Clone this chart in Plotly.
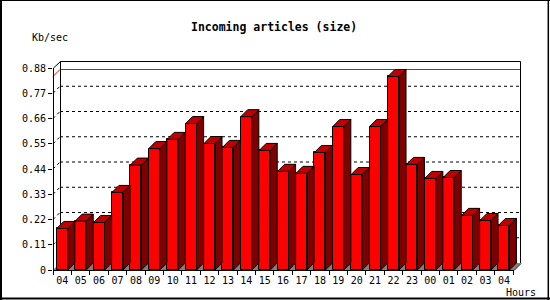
import plotly.graph_objects as go

# ---- data ----
hours = ["04", "05", "06", "07", "08", "09", "10", "11", "12", "13", "14", "15",
         "16", "17", "18", "19", "20", "21", "22", "23", "00", "01", "02", "03", "04"]
kb_per_sec = [0.181, 0.213, 0.207, 0.338, 0.457, 0.529, 0.569, 0.638, 0.551, 0.534,
              0.668, 0.521, 0.430, 0.421, 0.512, 0.625, 0.416, 0.625, 0.843, 0.460,
              0.399, 0.403, 0.238, 0.216, 0.194]
y_ticks = [0, 0.11, 0.22, 0.33, 0.44, 0.55, 0.66, 0.77, 0.88]
y_tick_text = ["0", "0.11", "0.22", "0.33", "0.44", "0.55", "0.66", "0.77", "0.88"]
title_text = "Incoming articles (size)"
y_unit = "Kb/sec"
x_unit_label = "Hours"

# ---- geometry (pixels) ----
W, H = 550, 300
L, R, T, B = 53, 521, 61, 270
DEPTH = 7
PITCH = 18.4
C0 = 62.3                      # pixel centre of first category
x0 = (L - C0) / PITCH
x1 = (R - C0) / PITCH
ys = y_ticks[-1] / (B - T - DEPTH)
y1 = (B - T) * ys
dx = DEPTH / PITCH
dy = DEPTH * ys
bw = 0.6

FONT = "DejaVu Sans Mono"
FRONT, TOP, SIDE = "#ff0000", "#c00000", "#800000"


def px(x):
    return (x - L) / (R - L)


def py(y):
    return (B - y) / (B - T)


xs = list(range(len(hours)))

fig = go.Figure()

# front faces
fig.add_trace(go.Bar(x=xs, y=kb_per_sec, width=bw,
                     marker=dict(color=FRONT, line=dict(color="black", width=1)),
                     hoverinfo="skip", showlegend=False))

# side and top faces
sx, sy, tx, tyy = [], [], [], []
for i, v in zip(xs, kb_per_sec):
    a, b = i - bw / 2, i + bw / 2
    sx += [b, b + dx, b + dx, b, b, None]
    sy += [0, dy, v + dy, v, 0, None]
    tx += [a, b, b + dx, a + dx, a, None]
    tyy += [v, v, v + dy, v + dy, v, None]
fig.add_trace(go.Scatter(x=sx, y=sy, mode="lines", fill="toself", fillcolor=SIDE,
                         line=dict(color="black", width=1), hoverinfo="skip",
                         showlegend=False))
fig.add_trace(go.Scatter(x=tx, y=tyy, mode="lines", fill="toself", fillcolor=TOP,
                         line=dict(color="black", width=1), hoverinfo="skip",
                         showlegend=False))

shapes = []
# floor
shapes.append(dict(type="path", xref="paper", yref="paper", layer="below",
                   path=f"M{px(L)},{py(B)} L{px(R-DEPTH)},{py(B)} L{px(R)},{py(B-DEPTH)} L{px(L+DEPTH)},{py(B-DEPTH)} Z",
                   fillcolor="#808080", line=dict(width=0)))
# dotted gridlines on back wall + wall diagonals
for v in y_ticks[1:-1]:
    yb = (v + dy) / y1
    shapes.append(dict(type="line", xref="paper", yref="paper", layer="below",
                       x0=px(L + DEPTH), x1=px(R), y0=yb, y1=yb,
                       line=dict(color="black", width=1, dash="dot")))
    shapes.append(dict(type="line", xref="paper", yref="paper", layer="below",
                       x0=px(L), x1=px(L + DEPTH), y0=v / y1, y1=yb,
                       line=dict(color="black", width=1, dash="dot")))
# max line (red)
vmax = max(kb_per_sec)
shapes.append(dict(type="path", xref="paper", yref="paper", layer="below",
                   path=f"M{px(L)},{vmax / y1} L{px(L + DEPTH)},{(vmax + dy) / y1} L{px(R)},{(vmax + dy) / y1}",
                   line=dict(color="#ff0000", width=1)))
# back wall frame
shapes.append(dict(type="path", xref="paper", yref="paper", layer="below",
                   path=f"M{px(L + DEPTH + 0.5)},{py(B - DEPTH)} L{px(L + DEPTH + 0.5)},{py(T + 0.5)} L{px(R - 0.5)},{py(T + 0.5)} L{px(R - 0.5)},{py(B - DEPTH)}",
                   line=dict(color="black", width=1)))
# front left axis
shapes.append(dict(type="path", xref="paper", yref="paper", layer="above",
                   path=f"M{px(L + 0.5)},{py(B)} L{px(L + 0.5)},{py(B - (B - T - DEPTH))} L{px(L + DEPTH + 0.5)},{py(T + 0.5)}",
                   line=dict(color="black", width=1)))
# front floor edge
shapes.append(dict(type="path", xref="paper", yref="paper", layer="above",
                   path=f"M{px(L)},{py(B + 0.5)} L{px(R - DEPTH)},{py(B + 0.5)} L{px(R)},{py(B - DEPTH + 0.5)}",
                   line=dict(color="black", width=1)))
# outer border
shapes += [
    dict(type="line", xref="paper", yref="paper", x0=px(1), x1=px(1), y0=py(0), y1=py(H),
         line=dict(color="black", width=2)),
    dict(type="line", xref="paper", yref="paper", x0=px(0), x1=px(W), y0=py(0.5), y1=py(0.5),
         line=dict(color="black", width=1)),
    dict(type="line", xref="paper", yref="paper", x0=px(548.3), x1=px(548.3), y0=py(0), y1=py(H),
         line=dict(color="black", width=1.5)),
    dict(type="line", xref="paper", yref="paper", x0=px(0), x1=px(W), y0=py(298.5), y1=py(298.5),
         line=dict(color="black", width=2)),
]

annotations = [
    dict(text=f"<b>{title_text}</b>", xref="paper", yref="paper", x=px(273.5), y=py(27),
         xanchor="center", yanchor="middle", showarrow=False,
         font=dict(family=FONT, size=11.5, color="black")),
    dict(text=y_unit, xref="paper", yref="paper", x=px(30), y=py(37),
         xanchor="left", yanchor="middle", showarrow=False,
         font=dict(family=FONT, size=10, color="black")),
    dict(text=x_unit_label, xref="paper", yref="paper", x=px(504), y=py(292),
         xanchor="left", yanchor="middle", showarrow=False,
         font=dict(family=FONT, size=10, color="black")),
]

fig.update_layout(
    width=W, height=H, autosize=False,
    margin=dict(l=L, r=W - R, t=T, b=H - B, pad=0),
    paper_bgcolor="white", plot_bgcolor="rgba(0,0,0,0)",
    showlegend=False, bargap=0,
    shapes=shapes, annotations=annotations,
    xaxis=dict(range=[x0, x1], tickmode="array", tickvals=xs, ticktext=hours,
               ticks="", showgrid=False, zeroline=False, showline=False,
               ticklabelstandoff=3,
               tickfont=dict(family=FONT, size=10, color="black"),
               minor=dict(ticks="outside", ticklen=4, tickcolor="black", tickwidth=1,
                          tickmode="array", tickvals=[i - 0.5 for i in range(len(hours) + 1)],
                          showgrid=False),
               fixedrange=True),
    yaxis=dict(range=[0, y1], tickmode="array", tickvals=y_ticks, ticktext=y_tick_text,
               ticks="outside", ticklen=4, tickcolor="black", tickwidth=1,
               showgrid=False, zeroline=False, showline=False,
               tickfont=dict(family=FONT, size=10, color="black"),
               fixedrange=True),
)

fig.write_html("out.html", config={"displayModeBar": False})
